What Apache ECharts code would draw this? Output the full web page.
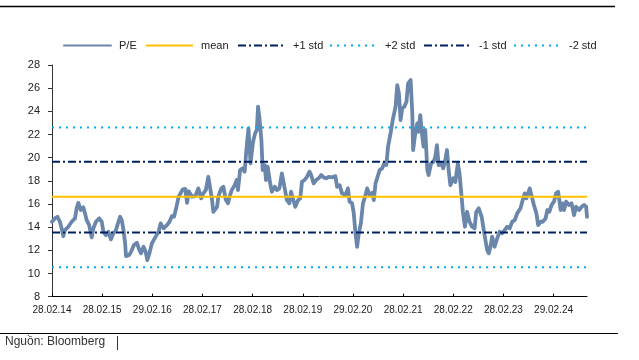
<!DOCTYPE html>
<html><head><meta charset="utf-8">
<script src="https://cdn.jsdelivr.net/npm/echarts@6/dist/echarts.min.js"></script>
<style>html,body{margin:0;padding:0;background:#fff}#c{width:639px;height:360px}</style>
</head><body><div id="c"></div>
<script>
// months since 28.02.14
const months = [0,0.7,1.3,1.9,2.3,2.7,3.1,3.9,4.7,5.5,5.9,6.3,6.9,7.5,7.9,8.3,8.9,9.5,9.9,10.5,11.3,11.9,12.3,12.9,13.5,14.1,14.7,15.3,15.9,16.3,16.7,17.1,17.5,17.7,18.5,19.1,19.6,20.3,20.9,21.3,21.9,22.4,22.8,23.3,23.9,24.7,25.5,26.0,26.7,27.5,28.1,28.7,29.2,29.7,30.3,30.7,31.3,31.9,32.3,32.7,33.5,34.3,35.0,35.7,36.2,36.8,37.4,37.8,38.3,38.6,39.5,39.8,40.5,41.0,41.6,42.1,42.6,43.0,43.7,44.2,44.5,45.0,45.6,46.1,46.5,47.0,47.5,48.1,48.6,49.0,49.3,49.6,50.1,50.4,50.9,51.2,51.6,52.2,52.6,53.3,53.8,54.4,55.0,55.6,56.2,56.8,57.2,57.6,58.2,58.9,59.4,59.8,60.4,61.0,61.6,62.0,62.6,63.2,63.8,64.4,65.0,65.6,66.2,67.0,67.8,68.2,68.8,69.4,70.2,70.8,71.2,71.8,72.2,72.6,73.0,73.4,73.9,74.4,75.0,75.4,76.0,76.6,77.0,77.4,77.9,78.4,79.0,79.5,80.0,80.4,81.0,81.6,82.2,82.6,83.0,83.4,83.8,84.3,84.8,85.2,85.8,86.2,86.4,86.8,87.4,87.7,88.1,88.6,88.9,89.3,89.8,90.1,90.7,91.3,91.7,92.1,92.5,93.1,93.6,94.1,94.5,94.9,95.3,96.0,96.5,97.1,97.5,98.0,98.3,98.8,99.3,99.9,100.5,101.1,101.5,102.1,102.8,103.3,103.7,104.1,104.5,104.9,105.3,105.9,106.5,107.1,107.7,108.3,108.9,109.5,110.1,110.7,111.3,112.1,112.5,113.1,113.5,113.9,114.3,114.7,115.3,115.9,116.3,116.9,117.4,118.1,118.5,119.0,119.5,120.1,120.6,121.1,121.7,122.1,122.5,123.0,123.7,124.3,124.9,125.4,126.1,126.7,127.3,127.8,128.0];
const pe = [14.47,14.76,14.9,14.47,13.9,13.23,13.75,14.04,14.47,14.76,15.63,16.1,15.48,15.71,15.19,14.6,14.18,13.12,13.9,14.47,14.76,14.47,13.6,13.32,13.6,12.95,13.47,13.75,14.47,14.9,14.6,13.75,12.6,11.5,11.6,12.03,12.46,12.66,12.03,11.74,12.31,11.88,11.16,11.74,12.6,13.12,13.6,14.33,13.9,14.18,14.47,14.96,14.9,15.63,16.63,16.49,17.27,17.3,16.1,17.1,16.63,16.69,17.35,16.49,16.92,17.2,18.35,18.5,16.34,15.33,15.76,16.63,17.35,17.49,16.34,16.06,16.77,17.2,17.63,18.07,17.2,18.93,19.08,18.79,20.66,22.53,19.51,21.38,22.1,22.39,24.4,23.54,21.52,18.93,19.36,18.07,19.22,17.78,17.06,17.49,17.2,17.35,18.65,17.49,16.34,16.06,17.06,16.92,15.76,16.34,16.49,17.92,18.07,18.35,18.79,18.5,17.78,18.07,18.22,18.5,18.3,18.22,18.35,18.3,18.41,17.49,17.63,16.92,16.77,17.35,16.2,16.06,15.19,13.47,12.31,13.47,14.33,16.06,16.77,17.35,16.77,16.97,16.34,17.78,18.35,18.93,19.08,19.51,19.36,20.95,22.1,23.4,24.4,26.27,25.56,23.25,24.26,24.4,24.83,26.42,26.7,23.83,20.66,21.81,22.96,22.24,23.68,21.81,20.95,22.39,18.93,18.5,19.51,19.65,20.08,21.09,19.36,19.51,19.08,19.8,20.66,18.93,17.63,18.22,17.9,19.51,18.65,16.63,15.33,14.04,15.33,14.47,14.04,13.9,15.33,15.63,14.9,13.75,12.89,12.03,11.74,12.31,13.18,12.31,13.03,13.6,13.47,13.75,14.04,13.9,14.47,14.6,15.19,15.63,16.2,16.92,16.49,16.92,17.35,16.77,15.91,15.19,14.18,14.47,14.47,14.76,15.48,15.33,15.91,16.2,16.92,17.06,15.48,16.06,15.48,16.2,15.91,16.06,15.05,15.76,15.48,15.76,15.91,15.76,14.9];
const levelNames = ['mean','+1 std','+2 std','-1 std','-2 std'];
const levelValues = [16.62, 19.65, 22.6, 13.55, 10.55];
const xTickMonths = [0,12,24,36,48,60,72,84,96,108,120];
const xTickLabels = ['28.02.14','28.02.15','29.02.16','28.02.17','28.02.18','28.02.19','29.02.20','28.02.21','28.02.22','28.02.23','29.02.24'];
const xRange = [0, 128];
const yTicks = [8,10,12,14,16,18,20,22,24,26,28];

const chart = echarts.init(document.getElementById('c'), null, {renderer:'canvas'});
const FONT = 'Liberation Sans';
const levelStyles = {
  'mean':   {color:'#ffc000', width:2, type:'solid'},
  '+1 std': {color:'#002060', width:2, type:[8,3,2,3]},
  '+2 std': {color:'#00b0f0', width:2, type:[2,5]},
  '-1 std': {color:'#002060', width:2, type:[8,3,2,3]},
  '-2 std': {color:'#00b0f0', width:2, type:[2,5]}
};
const legendLeft = {'P/E':63,'mean':145,'+1 std':237,'+2 std':329,'-1 std':423,'-2 std':513};
const series = [{
  name:'P/E', type:'line', symbol:'none', z:2,
  data: months.map((m,i)=>[m,pe[i]]),
  lineStyle:{color:'#6a87ab', width:3.8, join:'round', cap:'round'},
  itemStyle:{color:'#6a87ab'}
}];
levelNames.forEach((n,i)=>{
  const s = levelStyles[n];
  series.push({name:n, type:'line', symbol:'none', z:3,
    data:[[xRange[0],levelValues[i]],[xRange[1],levelValues[i]]],
    lineStyle:{color:s.color, width:s.width, type:s.type},
    itemStyle:{color:s.color}});
});
const legends = Object.keys(legendLeft).map(n=>({
  data:[n], left:legendLeft[n], top:40, itemWidth:47, itemHeight:14,
  selectedMode:false, padding:0,
  itemStyle:{opacity:0},
  textStyle:{fontFamily:FONT, fontSize:11, color:'#222', padding:[0,0,0,3]}
}));
chart.setOption({
  animation:false,
  backgroundColor:'#fff',
  legend: legends,
  grid:{left:52, right:52, top:65, bottom:63.3, containLabel:false},
  xAxis:{type:'value', min:xRange[0], max:xRange[1], interval:12,
    axisLine:{lineStyle:{color:'#000', width:1}},
    axisTick:{inside:true, length:3, lineStyle:{color:'#000'}, customValues:xTickMonths},
    axisLabel:{customValues:xTickMonths, margin:9, fontFamily:FONT, fontSize:10, color:'#222',
      formatter:v=>{const k=xTickMonths.indexOf(v); return k>=0?xTickLabels[k]:'';}},
    splitLine:{show:false}},
  yAxis:{type:'value', min:yTicks[0], max:yTicks[yTicks.length-1], interval:2,
    axisLine:{show:true, lineStyle:{color:'#333', width:1}},
    axisTick:{show:true, length:4, lineStyle:{color:'#333'}},
    axisLabel:{margin:12, fontFamily:FONT, fontSize:11, color:'#222'},
    splitLine:{show:false}},
  series: series,
  graphic:[
    {type:'line', shape:{x1:0,y1:6.5,x2:615,y2:6.5}, style:{stroke:'#000', lineWidth:1.5}},
    {type:'line', shape:{x1:0,y1:333.5,x2:618,y2:333.5}, style:{stroke:'#000', lineWidth:1.2}},
    {type:'line', shape:{x1:117.5,y1:336,x2:117.5,y2:350}, style:{stroke:'#333', lineWidth:1}},
    {type:'text', left:5, top:336, style:{text:'Nguồn: Bloomberg', font:'12px "Liberation Sans"', fill:'#333'}}
  ]
});
</script></body></html>
